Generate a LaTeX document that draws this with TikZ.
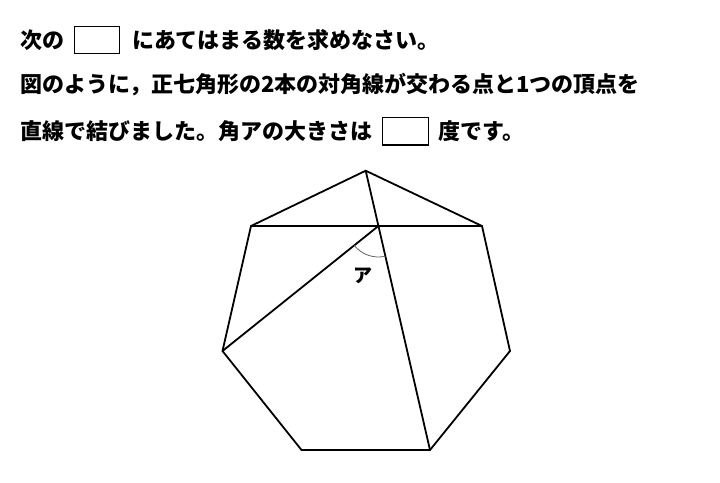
\documentclass[tikz,border=0pt]{standalone}
\usepackage{fontspec}
\setmainfont{Noto Sans CJK JP}
\usetikzlibrary{arrows.meta}
\tikzset{
  line/.style={line width=1.8pt,line join=miter},
  txt/.style={anchor=west,inner sep=0pt,font=\fontsize{22}{22}\selectfont\bfseries},
  ansbox/.style={draw,line width=1.1pt,minimum width=45pt,minimum height=27pt,inner sep=0pt},
  anglearc/.style={gray!80!black,line width=0.8pt}
}
\begin{document}
\begin{tikzpicture}[x=1pt,y=1pt]
			\useasboundingbox (0,0) rectangle (720,-482);
			\node[txt] (l1a) at (20,-40.5) {次の};
			\node[ansbox] (box1) at (97,-40) {};
			\node[txt] (l1b) at (132,-40.5) {にあてはまる数を求めなさい。};
			\node[txt] (l2) at (20,-85) {図のように，正七角形の2本の対角線が交わる点と1つの頂点を};
			\node[txt] (l3a) at (20,-131) {直線で結びました。角アの大きさは};
			\node[ansbox,minimum width=45.5pt,minimum height=27.5pt] (box2) at (405.5,-131.2) {};
			\node[txt] (l3b) at (438,-131) {度です。};
			\coordinate (T) at (365.7,-170.7);
			\coordinate (UR) at (482,-226);
			\coordinate (R) at (510,-351);
			\coordinate (BR) at (430,-450);
			\coordinate (BL) at (301.5,-450);
			\coordinate (L) at (222.5,-351);
			\coordinate (UL) at (251,-226);
			\coordinate (X) at (intersection of UL--UR and T--BR);
			\draw[line] (T) -- (UR) -- (R) -- (BR) -- (BL) -- (L) -- (UL) -- cycle;
			\draw[line] (UL) -- (UR);
			\draw[line] (T) -- (BR);
			\draw[line] (X) -- (L);
			\draw[anglearc] (X) ++(218.8:31) arc[start angle=218.8,end angle=283,radius=31];
			\node[font=\fontsize{19}{19}\selectfont\bfseries] (ang) at (363,-276) {ア};
		\end{tikzpicture}
\end{document}
